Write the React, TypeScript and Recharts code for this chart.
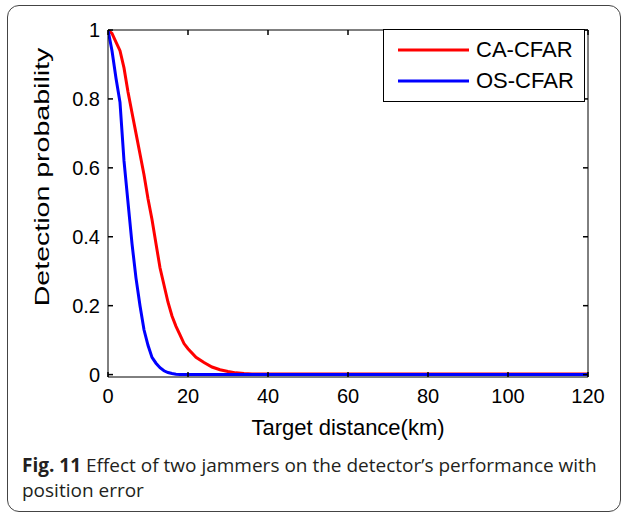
import { LineChart, Line, XAxis, YAxis, Legend } from "recharts";

// target distance (km)
const distance = [
  0, 1, 2, 3, 4, 5, 6, 7, 8, 9, 10, 11, 12, 13, 14, 15, 16, 17, 18, 19, 20,
  22, 24, 26, 28, 30, 32, 34, 36, 40, 50, 60, 70, 80, 90, 100, 110, 120,
];
const caCfar = [
  1, 0.99, 0.965, 0.94, 0.89, 0.82, 0.76, 0.7, 0.64, 0.58, 0.51, 0.45, 0.38,
  0.31, 0.26, 0.21, 0.17, 0.14, 0.115, 0.09, 0.075, 0.05, 0.035, 0.022, 0.014,
  0.009, 0.005, 0.003, 0.002, 0.002, 0.002, 0.002, 0.002, 0.002, 0.002, 0.002,
  0.002, 0.002,
];
const osCfar = [
  1, 0.94, 0.86, 0.79, 0.62, 0.5, 0.38, 0.28, 0.2, 0.13, 0.085, 0.05, 0.033,
  0.02, 0.011, 0.006, 0.003, 0.001, 0, 0, 0, 0, 0, 0, 0, 0, 0, 0, 0, 0, 0, 0,
  0, 0, 0, 0, 0, 0,
];
const xTicks = [0, 20, 40, 60, 80, 100, 120];
const yTicks = [0, 0.2, 0.4, 0.6, 0.8, 1];

const data = distance.map((d, i) => ({ d, ca: caCfar[i], os: osCfar[i] }));

const FONT = '"Liberation Sans", Arial, Helvetica, sans-serif';
const X_DOMAIN: [number, number] = [0, 120];
const Y_DOMAIN: [number, number] = [-0.007, 1];

const NoLabel = () => <g />;

function LegendBox(props: any) {
  const items = props.payload || [];
  return (
    <div
      style={{
        width: 202,
        height: 73,
        border: "1px solid #000",
        background: "#fff",
        boxSizing: "border-box",
        fontFamily: FONT,
        fontSize: 22,
        color: "#000",
        paddingTop: 4,
      }}
    >
      {items.map((it: any) => (
        <div key={it.value} style={{ display: "flex", alignItems: "center", height: 31 }}>
          <svg width={92} height={10}>
            <line x1={14} x2={85} y1={5} y2={5} stroke={it.color} strokeWidth={3} />
          </svg>
          <span>{it.value}</span>
        </div>
      ))}
    </div>
  );
}

export default function App() {
  return (
    <div
      style={{
        position: "absolute",
        left: 0,
        top: 0,
        width: 627,
        height: 514,
        background: "#fff",
      }}
    >
      <div
        style={{
          position: "absolute",
          left: 7,
          top: 5,
          width: 614,
          height: 507,
          border: "1.5px solid #444",
          borderRadius: 12,
          boxSizing: "border-box",
        }}
      />
      <div style={{ position: "absolute", left: 0, top: 0 }}>
        <LineChart
          width={627}
          height={440}
          data={data}
          margin={{ top: 30, right: 39, bottom: 13, left: 38 }}
        >
          {/* labelled axes */}
          <XAxis
            xAxisId="main"
            dataKey="d"
            type="number"
            domain={X_DOMAIN}
            allowDataOverflow
            ticks={xTicks}
            height={50}
            tickLine={false}
            tickSize={0}
            tickMargin={12}
            axisLine={{ stroke: "#000", strokeWidth: 1 }}
            tick={{ fill: "#000", fontSize: 20, fontFamily: FONT }}
            label={{
              content: (p: any) => {
                const vb = p.viewBox;
                return (
                  <text
                    x={vb.x + vb.width / 2}
                    y={vb.y + 58}
                    textAnchor="middle"
                    fontFamily={FONT}
                    fontSize={22}
                    fill="#000"
                  >
                    Target distance(km)
                  </text>
                );
              },
            }}
          />
          <YAxis
            yAxisId="main"
            type="number"
            domain={Y_DOMAIN}
            allowDataOverflow
            ticks={yTicks}
            width={70}
            tickLine={false}
            tickSize={0}
            tickMargin={8}
            axisLine={{ stroke: "#000", strokeWidth: 1 }}
            tick={{ fill: "#000", fontSize: 20, fontFamily: FONT }}
            label={{
              content: () => (
                <text
                  transform="translate(49,177) rotate(-90) scale(1.36,1)"
                  textAnchor="middle"
                  fontFamily={FONT}
                  fontSize={21}
                  fill="#000"
                >
                  Detection probability
                </text>
              ),
            }}
          />
          {/* inward tick marks and box, MATLAB style */}
          <XAxis
            xAxisId="bottomTicks"
            dataKey="d"
            type="number"
            domain={X_DOMAIN}
            allowDataOverflow
            ticks={xTicks}
            mirror
            tick={NoLabel}
            tickSize={5}
            axisLine={false}
            tickLine={{ stroke: "#000", strokeWidth: 1.5 }}
          />
          <XAxis
            xAxisId="top"
            dataKey="d"
            orientation="top"
            type="number"
            domain={X_DOMAIN}
            allowDataOverflow
            ticks={xTicks}
            mirror
            tick={NoLabel}
            tickSize={5}
            axisLine={{ stroke: "#000", strokeWidth: 1 }}
            tickLine={{ stroke: "#000", strokeWidth: 1.5 }}
          />
          <YAxis
            yAxisId="leftTicks"
            type="number"
            domain={Y_DOMAIN}
            allowDataOverflow
            ticks={yTicks}
            mirror
            tick={NoLabel}
            tickSize={5}
            axisLine={false}
            tickLine={{ stroke: "#000", strokeWidth: 1.5 }}
          />
          <YAxis
            yAxisId="right"
            orientation="right"
            type="number"
            domain={Y_DOMAIN}
            allowDataOverflow
            ticks={yTicks}
            mirror
            tick={NoLabel}
            tickSize={5}
            axisLine={{ stroke: "#000", strokeWidth: 1 }}
            tickLine={{ stroke: "#000", strokeWidth: 1.5 }}
          />
          <Legend
            layout="vertical"
            align="center"
            verticalAlign="middle"
            content={<LegendBox />}
            wrapperStyle={{ position: "absolute", left: 383, top: 29, width: 202 }}
          />
          <Line
            xAxisId="main"
            yAxisId="main"
            type="linear"
            dataKey="ca"
            name="CA-CFAR"
            stroke="#ff0000"
            strokeWidth={3}
            dot={false}
            isAnimationActive={false}
          />
          <Line
            xAxisId="main"
            yAxisId="main"
            type="linear"
            dataKey="os"
            name="OS-CFAR"
            stroke="#0000ff"
            strokeWidth={3}
            dot={false}
            isAnimationActive={false}
          />
        </LineChart>
      </div>
      <div
        style={{
          position: "absolute",
          left: 22,
          top: 453,
          width: 590,
          fontFamily: '"Open Sans", "Noto Sans", sans-serif',
          fontSize: 19,
          lineHeight: "25px",
          color: "#231f20",
        }}
      >
        <b>Fig. 11</b> Effect of two jammers on the detector’s performance with position error
      </div>
    </div>
  );
}
